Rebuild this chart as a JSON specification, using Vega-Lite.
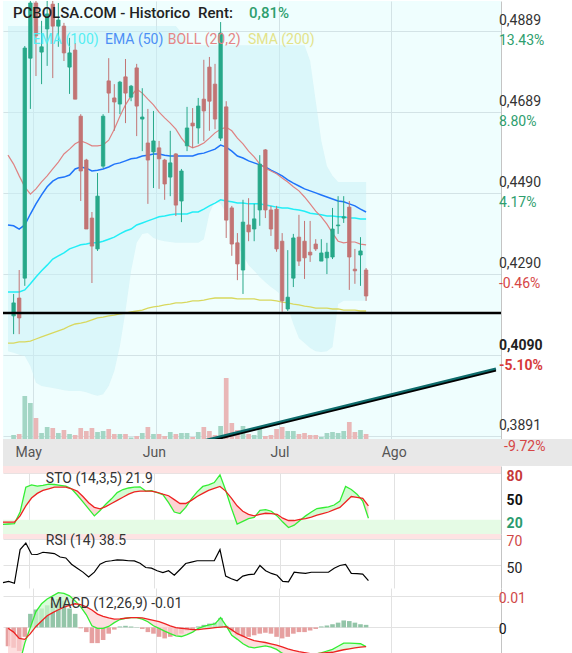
{
"$schema":"https://vega.github.io/schema/vega-lite/v6.json",
"padding":0,"bounds":"flush","spacing":0,"background":"white",
"config":{"view":{"stroke":null},"font":"Roboto","axis":{"title":null}},
"datasets":{
"candles":[{"i":0,"o":0.4187,"c":0.4219,"h":0.4241,"l":0.4142,"v":40,"d":"up"},{"i":1,"o":0.4231,"c":0.4182,"h":0.43,"l":0.4142,"v":50,"d":"dn"},{"i":2,"o":0.428,"c":0.4847,"h":0.4852,"l":0.4261,"v":430,"d":"up"},{"i":3,"o":0.4822,"c":0.4958,"h":0.4963,"l":0.4697,"v":360,"d":"up"},{"i":4,"o":0.4958,"c":0.4877,"h":0.4963,"l":0.4778,"v":210,"d":"dn"},{"i":5,"o":0.4837,"c":0.485,"h":0.4914,"l":0.4758,"v":60,"d":"up"},{"i":6,"o":0.4894,"c":0.4931,"h":0.4963,"l":0.4803,"v":120,"d":"up"},{"i":7,"o":0.4955,"c":0.4901,"h":0.4963,"l":0.4773,"v":110,"d":"dn"},{"i":8,"o":0.4901,"c":0.4916,"h":0.4958,"l":0.485,"v":60,"d":"up"},{"i":9,"o":0.4901,"c":0.4835,"h":0.4909,"l":0.4815,"v":90,"d":"dn"},{"i":10,"o":0.48,"c":0.4835,"h":0.4872,"l":0.4734,"v":50,"d":"up"},{"i":11,"o":0.4842,"c":0.4721,"h":0.4859,"l":0.4721,"v":40,"d":"dn"},{"i":12,"o":0.4679,"c":0.4544,"h":0.4684,"l":0.447,"v":110,"d":"dn"},{"i":13,"o":0.4571,"c":0.4401,"h":0.4574,"l":0.4401,"v":80,"d":"dn"},{"i":14,"o":0.4428,"c":0.4359,"h":0.4443,"l":0.4268,"v":110,"d":"dn"},{"i":15,"o":0.4352,"c":0.4482,"h":0.4539,"l":0.4347,"v":70,"d":"up"},{"i":16,"o":0.4556,"c":0.4679,"h":0.4684,"l":0.4551,"v":80,"d":"up"},{"i":17,"o":0.4766,"c":0.4736,"h":0.4822,"l":0.4687,"v":100,"d":"dn"},{"i":18,"o":0.4724,"c":0.4714,"h":0.4758,"l":0.4643,"v":50,"d":"dn"},{"i":19,"o":0.4709,"c":0.4763,"h":0.4766,"l":0.4684,"v":50,"d":"up"},{"i":20,"o":0.4776,"c":0.4736,"h":0.482,"l":0.4662,"v":50,"d":"dn"},{"i":21,"o":0.4726,"c":0.4753,"h":0.4756,"l":0.4716,"v":15,"d":"up"},{"i":22,"o":0.4798,"c":0.4704,"h":0.4808,"l":0.463,"v":30,"d":"dn"},{"i":23,"o":0.4672,"c":0.4677,"h":0.4748,"l":0.4593,"v":60,"d":"up"},{"i":24,"o":0.4613,"c":0.4571,"h":0.4697,"l":0.4463,"v":120,"d":"dn"},{"i":25,"o":0.4591,"c":0.4618,"h":0.4692,"l":0.4502,"v":50,"d":"up"},{"i":26,"o":0.4601,"c":0.4574,"h":0.4618,"l":0.45,"v":50,"d":"dn"},{"i":27,"o":0.4571,"c":0.4512,"h":0.4574,"l":0.4473,"v":30,"d":"dn"},{"i":28,"o":0.4529,"c":0.4564,"h":0.4643,"l":0.4482,"v":70,"d":"up"},{"i":29,"o":0.4586,"c":0.446,"h":0.4588,"l":0.4433,"v":50,"d":"dn"},{"i":30,"o":0.447,"c":0.4544,"h":0.4549,"l":0.4418,"v":60,"d":"up"},{"i":31,"o":0.4606,"c":0.465,"h":0.4702,"l":0.4593,"v":60,"d":"up"},{"i":32,"o":0.4662,"c":0.4655,"h":0.4699,"l":0.4601,"v":20,"d":"dn"},{"i":33,"o":0.465,"c":0.4704,"h":0.4724,"l":0.4611,"v":70,"d":"up"},{"i":34,"o":0.4721,"c":0.4692,"h":0.4818,"l":0.4618,"v":120,"d":"dn"},{"i":35,"o":0.48,"c":0.4716,"h":0.4825,"l":0.4643,"v":80,"d":"dn"},{"i":36,"o":0.4758,"c":0.4672,"h":0.4808,"l":0.4647,"v":40,"d":"dn"},{"i":37,"o":0.4625,"c":0.4884,"h":0.4911,"l":0.4618,"v":130,"d":"up"},{"i":38,"o":0.4702,"c":0.4423,"h":0.4716,"l":0.4379,"v":610,"d":"dn"},{"i":39,"o":0.4453,"c":0.4364,"h":0.4458,"l":0.4335,"v":160,"d":"dn"},{"i":40,"o":0.4367,"c":0.4315,"h":0.4391,"l":0.4275,"v":90,"d":"dn"},{"i":41,"o":0.43,"c":0.4418,"h":0.4473,"l":0.4241,"v":130,"d":"up"},{"i":42,"o":0.4411,"c":0.4394,"h":0.4477,"l":0.4371,"v":50,"d":"dn"},{"i":43,"o":0.4401,"c":0.4426,"h":0.4463,"l":0.4371,"v":40,"d":"up"},{"i":44,"o":0.4448,"c":0.4561,"h":0.4583,"l":0.4409,"v":100,"d":"up"},{"i":45,"o":0.4596,"c":0.4448,"h":0.4598,"l":0.4428,"v":30,"d":"dn"},{"i":46,"o":0.4448,"c":0.4401,"h":0.4458,"l":0.4384,"v":40,"d":"dn"},{"i":47,"o":0.445,"c":0.4352,"h":0.4458,"l":0.4345,"v":100,"d":"dn"},{"i":48,"o":0.4371,"c":0.4224,"h":0.4391,"l":0.4197,"v":120,"d":"dn"},{"i":49,"o":0.4204,"c":0.4233,"h":0.4349,"l":0.4199,"v":80,"d":"up"},{"i":50,"o":0.428,"c":0.4379,"h":0.4389,"l":0.4258,"v":80,"d":"up"},{"i":51,"o":0.4381,"c":0.4322,"h":0.4436,"l":0.431,"v":50,"d":"dn"},{"i":52,"o":0.4371,"c":0.433,"h":0.4421,"l":0.4278,"v":60,"d":"dn"},{"i":53,"o":0.4344,"c":0.4337,"h":0.4421,"l":0.432,"v":40,"d":"dn"},{"i":54,"o":0.4364,"c":0.4352,"h":0.4376,"l":0.4347,"v":40,"d":"dn"},{"i":55,"o":0.4322,"c":0.4342,"h":0.4376,"l":0.4322,"v":20,"d":"up"},{"i":56,"o":0.433,"c":0.4344,"h":0.4367,"l":0.429,"v":60,"d":"up"},{"i":57,"o":0.4332,"c":0.4401,"h":0.4453,"l":0.4327,"v":70,"d":"up"},{"i":58,"o":0.4409,"c":0.4411,"h":0.4482,"l":0.4389,"v":60,"d":"up"},{"i":59,"o":0.4428,"c":0.4431,"h":0.4482,"l":0.4416,"v":80,"d":"up"},{"i":60,"o":0.4455,"c":0.4332,"h":0.447,"l":0.4251,"v":170,"d":"dn"},{"i":61,"o":0.4302,"c":0.4298,"h":0.4352,"l":0.4266,"v":70,"d":"dn"},{"i":62,"o":0.4337,"c":0.4347,"h":0.4381,"l":0.4261,"v":90,"d":"up"},{"i":63,"o":0.43,"c":0.4236,"h":0.4305,"l":0.4224,"v":50,"d":"dn"}],
"ind":[{"i":-1,"e50":0.4411,"e100":0.4246,"bm":0.4583,"s":0.412,"bu":0.4901,"bl":0.41},{"i":0,"e50":0.4409,"e100":0.4246,"bm":0.4561,"s":0.412,"bu":0.4901,"bl":0.4096},{"i":1,"e50":0.4401,"e100":0.4246,"bm":0.4532,"s":0.4123,"bu":0.4901,"bl":0.4091},{"i":2,"e50":0.4411,"e100":0.4251,"bm":0.4505,"s":0.4123,"bu":0.4901,"bl":0.4088},{"i":3,"e50":0.4438,"e100":0.4266,"bm":0.4487,"s":0.4125,"bu":0.4901,"bl":0.4063},{"i":4,"e50":0.4463,"e100":0.4283,"bm":0.45,"s":0.413,"bu":0.4901,"bl":0.4022},{"i":5,"e50":0.4485,"e100":0.4298,"bm":0.4517,"s":0.4135,"bu":0.4901,"bl":0.4014},{"i":6,"e50":0.4505,"e100":0.4312,"bm":0.4532,"s":0.414,"bu":0.4901,"bl":0.4012},{"i":7,"e50":0.4519,"e100":0.4327,"bm":0.4549,"s":0.4145,"bu":0.4901,"bl":0.4009},{"i":8,"e50":0.4527,"e100":0.4335,"bm":0.4566,"s":0.415,"bu":0.4901,"bl":0.4007},{"i":9,"e50":0.4529,"e100":0.4342,"bm":0.4586,"s":0.4155,"bu":0.4901,"bl":0.4004},{"i":10,"e50":0.4534,"e100":0.4352,"bm":0.4598,"s":0.4162,"bu":0.4901,"bl":0.4002},{"i":11,"e50":0.4549,"e100":0.4357,"bm":0.4611,"s":0.4167,"bu":0.4901,"bl":0.4002},{"i":12,"e50":0.4554,"e100":0.4362,"bm":0.4618,"s":0.4169,"bu":0.4901,"bl":0.4002},{"i":13,"e50":0.4551,"e100":0.4364,"bm":0.4613,"s":0.4172,"bu":0.4901,"bl":0.3999},{"i":14,"e50":0.4544,"e100":0.4367,"bm":0.4606,"s":0.4177,"bu":0.4901,"bl":0.3994},{"i":15,"e50":0.4546,"e100":0.4367,"bm":0.4606,"s":0.4182,"bu":0.4901,"bl":0.399},{"i":16,"e50":0.4549,"e100":0.4371,"bm":0.4608,"s":0.4184,"bu":0.4901,"bl":0.3994},{"i":17,"e50":0.4554,"e100":0.4376,"bm":0.462,"s":0.4187,"bu":0.4901,"bl":0.4014},{"i":18,"e50":0.4561,"e100":0.4381,"bm":0.4647,"s":0.4189,"bu":0.4901,"bl":0.4051},{"i":19,"e50":0.4564,"e100":0.4389,"bm":0.4679,"s":0.4192,"bu":0.4901,"bl":0.4113},{"i":20,"e50":0.4569,"e100":0.4396,"bm":0.4707,"s":0.4194,"bu":0.4901,"bl":0.4199},{"i":21,"e50":0.4574,"e100":0.4401,"bm":0.4729,"s":0.4197,"bu":0.4901,"bl":0.4298},{"i":22,"e50":0.4576,"e100":0.4411,"bm":0.4746,"s":0.4199,"bu":0.4901,"bl":0.4367},{"i":23,"e50":0.4581,"e100":0.4416,"bm":0.4736,"s":0.4201,"bu":0.4901,"bl":0.4389},{"i":24,"e50":0.4583,"e100":0.4421,"bm":0.4721,"s":0.4206,"bu":0.4901,"bl":0.4391},{"i":25,"e50":0.4586,"e100":0.4426,"bm":0.4707,"s":0.4209,"bu":0.4901,"bl":0.4379},{"i":26,"e50":0.4586,"e100":0.4431,"bm":0.4689,"s":0.4211,"bu":0.4901,"bl":0.4374},{"i":27,"e50":0.4583,"e100":0.4433,"bm":0.4675,"s":0.4214,"bu":0.4901,"bl":0.4371},{"i":28,"e50":0.4581,"e100":0.4436,"bm":0.4662,"s":0.4216,"bu":0.4901,"bl":0.4369},{"i":29,"e50":0.4581,"e100":0.4438,"bm":0.4647,"s":0.4219,"bu":0.4901,"bl":0.4367},{"i":30,"e50":0.4581,"e100":0.4438,"bm":0.4625,"s":0.4219,"bu":0.4884,"bl":0.4367},{"i":31,"e50":0.4581,"e100":0.4438,"bm":0.4608,"s":0.4221,"bu":0.4854,"bl":0.4367},{"i":32,"e50":0.4581,"e100":0.4443,"bm":0.4601,"s":0.4224,"bu":0.4854,"bl":0.4367},{"i":33,"e50":0.4586,"e100":0.4443,"bm":0.4606,"s":0.4224,"bu":0.4854,"bl":0.4367},{"i":34,"e50":0.4588,"e100":0.445,"bm":0.4613,"s":0.4226,"bu":0.4854,"bl":0.4376},{"i":35,"e50":0.4593,"e100":0.4458,"bm":0.4625,"s":0.4229,"bu":0.4854,"bl":0.444},{"i":36,"e50":0.4598,"e100":0.4465,"bm":0.4638,"s":0.4231,"bu":0.4854,"bl":0.447},{"i":37,"e50":0.4608,"e100":0.4473,"bm":0.4647,"s":0.4231,"bu":0.4854,"bl":0.4463},{"i":38,"e50":0.4603,"e100":0.447,"bm":0.4652,"s":0.4231,"bu":0.4854,"bl":0.444},{"i":39,"e50":0.4593,"e100":0.4468,"bm":0.4643,"s":0.4231,"bu":0.4854,"bl":0.4396},{"i":40,"e50":0.4581,"e100":0.4465,"bm":0.4625,"s":0.4229,"bu":0.4854,"bl":0.4359},{"i":41,"e50":0.4576,"e100":0.4465,"bm":0.4611,"s":0.4229,"bu":0.4854,"bl":0.4337},{"i":42,"e50":0.4569,"e100":0.4463,"bm":0.4593,"s":0.4229,"bu":0.4854,"bl":0.4312},{"i":43,"e50":0.4564,"e100":0.4463,"bm":0.4579,"s":0.4229,"bu":0.4854,"bl":0.4298},{"i":44,"e50":0.4559,"e100":0.4463,"bm":0.4561,"s":0.4226,"bu":0.4854,"bl":0.4283},{"i":45,"e50":0.4554,"e100":0.446,"bm":0.4551,"s":0.4226,"bu":0.4854,"bl":0.427},{"i":46,"e50":0.4546,"e100":0.4458,"bm":0.4544,"s":0.4226,"bu":0.4854,"bl":0.4258},{"i":47,"e50":0.4539,"e100":0.4455,"bm":0.4537,"s":0.4224,"bu":0.4854,"bl":0.4248},{"i":48,"e50":0.4532,"e100":0.4453,"bm":0.4527,"s":0.4221,"bu":0.4854,"bl":0.4236},{"i":49,"e50":0.4522,"e100":0.4453,"bm":0.4517,"s":0.4219,"bu":0.4854,"bl":0.4209},{"i":50,"e50":0.4514,"e100":0.445,"bm":0.4505,"s":0.4216,"bu":0.4854,"bl":0.4167},{"i":51,"e50":0.4507,"e100":0.4448,"bm":0.4495,"s":0.4214,"bu":0.4854,"bl":0.4132},{"i":52,"e50":0.45,"e100":0.4445,"bm":0.448,"s":0.4211,"bu":0.4854,"bl":0.412},{"i":53,"e50":0.4495,"e100":0.444,"bm":0.4463,"s":0.4209,"bu":0.4815,"bl":0.4108},{"i":54,"e50":0.449,"e100":0.4438,"bm":0.4445,"s":0.4206,"bu":0.4716,"bl":0.41},{"i":55,"e50":0.4485,"e100":0.4436,"bm":0.4431,"s":0.4206,"bu":0.4618,"bl":0.4098},{"i":56,"e50":0.448,"e100":0.4433,"bm":0.4413,"s":0.4206,"bu":0.4556,"bl":0.41},{"i":57,"e50":0.4475,"e100":0.4433,"bm":0.4391,"s":0.4204,"bu":0.4532,"bl":0.411},{"i":58,"e50":0.447,"e100":0.4431,"bm":0.4371,"s":0.4204,"bu":0.4517,"bl":0.4216},{"i":59,"e50":0.4468,"e100":0.4431,"bm":0.4367,"s":0.4201,"bu":0.4517,"bl":0.4224},{"i":60,"e50":0.4463,"e100":0.4428,"bm":0.4369,"s":0.4201,"bu":0.4517,"bl":0.4224},{"i":61,"e50":0.4458,"e100":0.4428,"bm":0.4369,"s":0.4201,"bu":0.4517,"bl":0.4224},{"i":62,"e50":0.445,"e100":0.4426,"bm":0.4364,"s":0.4199,"bu":0.4517,"bl":0.4224},{"i":63,"e50":0.4443,"e100":0.4426,"bm":0.4362,"s":0.4199,"bu":0.4517,"bl":0.4224}],
"trend":[{"i":30,"p":0.3863},{"i":86.22,"p":0.4054}],
"lab":[{"p":0.4889,"a":"0,4889","b":"13.43%","w":"n"},{"p":0.4689,"a":"0,4689","b":"8.80%","w":"n"},{"p":0.449,"a":"0,4490","b":"4.17%","w":"n"},{"p":0.429,"a":"0,4290","b":"-0.46%","w":"n"},{"p":0.409,"a":"0,4090","b":"-5.10%","w":"b"},{"p":0.3891,"a":"0,3891","b":"-9.72%","w":"n"}],
"months":[{"i":3.5,"m":"May"},{"i":25.5,"m":"Jun"},{"i":47.5,"m":"Jul"},{"i":67.5,"m":"Ago"}],
"sto":[{"i":-1,"k":14,"d":17,"s":1,"c":"dn"},{"i":0,"k":14.5,"d":17,"s":1,"c":"dn"},{"i":1,"k":15,"d":17,"s":1,"c":"dn"},{"i":2,"k":30,"d":25,"s":1,"c":"dn"},{"i":2,"k":30,"d":25,"s":2,"c":"up"},{"i":3,"k":62,"d":38,"s":2,"c":"up"},{"i":4,"k":65,"d":48,"s":2,"c":"up"},{"i":5,"k":63.5,"d":54,"s":2,"c":"up"},{"i":6,"k":64.5,"d":58,"s":2,"c":"up"},{"i":7,"k":66,"d":60,"s":2,"c":"up"},{"i":8,"k":65.5,"d":62,"s":2,"c":"up"},{"i":9,"k":64.5,"d":62,"s":2,"c":"up"},{"i":10,"k":63.3,"d":62,"s":2,"c":"up"},{"i":11,"k":60,"d":60,"s":2,"c":"up"},{"i":11,"k":60,"d":60,"s":3,"c":"dn"},{"i":12,"k":52,"d":57,"s":3,"c":"dn"},{"i":13,"k":43,"d":50,"s":3,"c":"dn"},{"i":14,"k":34,"d":42,"s":3,"c":"dn"},{"i":15,"k":25,"d":36,"s":3,"c":"dn"},{"i":16,"k":32,"d":34,"s":3,"c":"dn"},{"i":17,"k":40,"d":37,"s":3,"c":"dn"},{"i":17,"k":40,"d":37,"s":4,"c":"up"},{"i":18,"k":47,"d":41,"s":4,"c":"up"},{"i":19,"k":55,"d":45,"s":4,"c":"up"},{"i":20,"k":59,"d":49,"s":4,"c":"up"},{"i":21,"k":61,"d":53,"s":4,"c":"up"},{"i":22,"k":62,"d":56,"s":4,"c":"up"},{"i":23,"k":62.5,"d":57,"s":4,"c":"up"},{"i":24,"k":57,"d":57,"s":4,"c":"up"},{"i":25,"k":57.5,"d":57,"s":4,"c":"up"},{"i":26,"k":55,"d":55.5,"s":4,"c":"up"},{"i":26,"k":55,"d":55.5,"s":5,"c":"dn"},{"i":27,"k":52.5,"d":53,"s":5,"c":"dn"},{"i":28,"k":42,"d":51,"s":5,"c":"dn"},{"i":29,"k":30,"d":46,"s":5,"c":"dn"},{"i":30,"k":28,"d":41,"s":5,"c":"dn"},{"i":31,"k":36,"d":41,"s":5,"c":"dn"},{"i":32,"k":47,"d":45,"s":5,"c":"dn"},{"i":32,"k":47,"d":45,"s":6,"c":"up"},{"i":33,"k":56,"d":50,"s":6,"c":"up"},{"i":34,"k":63,"d":54,"s":6,"c":"up"},{"i":35,"k":65,"d":58,"s":6,"c":"up"},{"i":36,"k":68,"d":60.5,"s":6,"c":"up"},{"i":37,"k":78,"d":63,"s":6,"c":"up"},{"i":38,"k":58,"d":57,"s":6,"c":"up"},{"i":39,"k":35,"d":48,"s":6,"c":"up"},{"i":39,"k":35,"d":48,"s":7,"c":"dn"},{"i":40,"k":14.5,"d":38,"s":7,"c":"dn"},{"i":41,"k":18,"d":31,"s":7,"c":"dn"},{"i":42,"k":21.5,"d":27,"s":7,"c":"dn"},{"i":43,"k":23,"d":25,"s":7,"c":"dn"},{"i":44,"k":32,"d":27,"s":7,"c":"dn"},{"i":44,"k":32,"d":27,"s":8,"c":"up"},{"i":45,"k":33,"d":28.4,"s":8,"c":"up"},{"i":46,"k":31,"d":28,"s":8,"c":"up"},{"i":47,"k":25,"d":27,"s":8,"c":"up"},{"i":47,"k":25,"d":27,"s":9,"c":"dn"},{"i":48,"k":17,"d":22,"s":9,"c":"dn"},{"i":49,"k":10,"d":19,"s":9,"c":"dn"},{"i":50,"k":13,"d":19,"s":9,"c":"dn"},{"i":51,"k":19,"d":20.5,"s":9,"c":"dn"},{"i":52,"k":25,"d":21.5,"s":9,"c":"dn"},{"i":52,"k":25,"d":21.5,"s":10,"c":"up"},{"i":53,"k":30,"d":23.5,"s":10,"c":"up"},{"i":54,"k":34.5,"d":26,"s":10,"c":"up"},{"i":55,"k":35.5,"d":28,"s":10,"c":"up"},{"i":56,"k":36.5,"d":30,"s":10,"c":"up"},{"i":57,"k":39,"d":33,"s":10,"c":"up"},{"i":58,"k":44,"d":36,"s":10,"c":"up"},{"i":59,"k":63,"d":43,"s":10,"c":"up"},{"i":60,"k":59,"d":50,"s":10,"c":"up"},{"i":61,"k":53,"d":49,"s":10,"c":"up"},{"i":62,"k":44,"d":47.5,"s":10,"c":"up"},{"i":62,"k":44,"d":47.5,"s":11,"c":"dn"},{"i":63,"k":22,"d":38,"s":11,"c":"dn"}],
"rsi":[{"i":-1,"r":37},{"i":0,"r":38},{"i":1,"r":36.6},{"i":2,"r":62},{"i":3,"r":67},{"i":4,"r":58.5},{"i":5,"r":58.3},{"i":6,"r":60},{"i":7,"r":59.5},{"i":8,"r":59},{"i":9,"r":56.4},{"i":10,"r":55.7},{"i":11,"r":51},{"i":12,"r":48},{"i":13,"r":45},{"i":14,"r":41.3},{"i":15,"r":45},{"i":16,"r":51},{"i":17,"r":53},{"i":18,"r":53.6},{"i":19,"r":54.3},{"i":20,"r":54},{"i":21,"r":53.6},{"i":22,"r":53.5},{"i":23,"r":51.7},{"i":24,"r":48.5},{"i":25,"r":48},{"i":26,"r":46},{"i":27,"r":44.6},{"i":28,"r":46},{"i":29,"r":42.6},{"i":30,"r":47},{"i":31,"r":51.5},{"i":32,"r":52.5},{"i":33,"r":53.6},{"i":34,"r":53.6},{"i":35,"r":53.6},{"i":36,"r":53.6},{"i":37,"r":62},{"i":38,"r":42},{"i":39,"r":40},{"i":40,"r":38.5},{"i":41,"r":42},{"i":42,"r":43.1},{"i":43,"r":43.5},{"i":44,"r":50},{"i":45,"r":46},{"i":46,"r":44},{"i":47,"r":42.6},{"i":48,"r":38},{"i":49,"r":37.7},{"i":50,"r":45},{"i":51,"r":44.5},{"i":52,"r":44},{"i":53,"r":44.9},{"i":54,"r":44.9},{"i":55,"r":44.9},{"i":56,"r":44.9},{"i":57,"r":48},{"i":58,"r":50},{"i":59,"r":50.9},{"i":60,"r":44},{"i":61,"r":43.8},{"i":62,"r":43.5},{"i":63,"r":38.5}],
"macd":[{"i":-1,"m":-0.009,"g":-0.0003,"s":1,"c":"dn"},{"i":0,"m":-0.011,"g":-0.0015,"s":1,"c":"dn"},{"i":1,"m":-0.012,"g":-0.0035,"s":1,"c":"dn"},{"i":2,"m":-0.005,"g":-0.0038,"s":1,"c":"dn"},{"i":3,"m":0,"g":-0.002,"s":1,"c":"dn"},{"i":3,"m":0,"g":-0.002,"s":2,"c":"up"},{"i":4,"m":0.005,"g":0.0003,"s":2,"c":"up"},{"i":5,"m":0.0075,"g":0.002,"s":2,"c":"up"},{"i":6,"m":0.009,"g":0.0037,"s":2,"c":"up"},{"i":7,"m":0.01,"g":0.0047,"s":2,"c":"up"},{"i":8,"m":0.011,"g":0.0056,"s":2,"c":"up"},{"i":9,"m":0.0108,"g":0.0064,"s":2,"c":"up"},{"i":10,"m":0.01,"g":0.007,"s":2,"c":"up"},{"i":11,"m":0.0084,"g":0.0075,"s":2,"c":"up"},{"i":12,"m":0.0065,"g":0.0072,"s":2,"c":"up"},{"i":12,"m":0.0065,"g":0.0072,"s":3,"c":"dn"},{"i":13,"m":0.004,"g":0.0065,"s":3,"c":"dn"},{"i":14,"m":0.0005,"g":0.0055,"s":3,"c":"dn"},{"i":15,"m":-0.0003,"g":0.0042,"s":3,"c":"dn"},{"i":16,"m":-0.0003,"g":0.0035,"s":3,"c":"dn"},{"i":17,"m":0.0003,"g":0.003,"s":3,"c":"dn"},{"i":18,"m":0.0015,"g":0.0026,"s":3,"c":"dn"},{"i":19,"m":0.0025,"g":0.0027,"s":3,"c":"dn"},{"i":20,"m":0.0029,"g":0.0029,"s":3,"c":"dn"},{"i":21,"m":0.0031,"g":0.0031,"s":3,"c":"dn"},{"i":22,"m":0.0031,"g":0.0031,"s":3,"c":"dn"},{"i":23,"m":0.0026,"g":0.003,"s":3,"c":"dn"},{"i":24,"m":0.0018,"g":0.0026,"s":3,"c":"dn"},{"i":25,"m":0.0005,"g":0.0022,"s":3,"c":"dn"},{"i":26,"m":-0.0003,"g":0.0018,"s":3,"c":"dn"},{"i":27,"m":-0.0012,"g":0.0012,"s":3,"c":"dn"},{"i":28,"m":-0.002,"g":0.0005,"s":3,"c":"dn"},{"i":29,"m":-0.0027,"g":-0.0001,"s":3,"c":"dn"},{"i":30,"m":-0.0029,"g":-0.0003,"s":3,"c":"dn"},{"i":31,"m":-0.0023,"g":-0.0005,"s":3,"c":"dn"},{"i":32,"m":-0.0015,"g":-0.0007,"s":3,"c":"dn"},{"i":33,"m":-0.0003,"g":-0.0007,"s":3,"c":"dn"},{"i":33,"m":-0.0003,"g":-0.0007,"s":4,"c":"up"},{"i":34,"m":0.0003,"g":-0.0005,"s":4,"c":"up"},{"i":35,"m":0.0008,"g":-0.0003,"s":4,"c":"up"},{"i":36,"m":0.0011,"g":-0.0001,"s":4,"c":"up"},{"i":37,"m":0.0031,"g":0.0001,"s":4,"c":"up"},{"i":38,"m":0.0005,"g":0.00025,"s":4,"c":"up"},{"i":39,"m":-0.0025,"g":-0.0008,"s":4,"c":"up"},{"i":39,"m":-0.0025,"g":-0.0008,"s":5,"c":"dn"},{"i":40,"m":-0.0038,"g":-0.002,"s":5,"c":"dn"},{"i":41,"m":-0.0052,"g":-0.0028,"s":5,"c":"dn"},{"i":42,"m":-0.0062,"g":-0.0036,"s":5,"c":"dn"},{"i":43,"m":-0.0065,"g":-0.0042,"s":5,"c":"dn"},{"i":44,"m":-0.0062,"g":-0.0045,"s":5,"c":"dn"},{"i":45,"m":-0.0059,"g":-0.0048,"s":5,"c":"dn"},{"i":46,"m":-0.0063,"g":-0.0052,"s":5,"c":"dn"},{"i":47,"m":-0.007,"g":-0.0056,"s":5,"c":"dn"},{"i":48,"m":-0.0082,"g":-0.0062,"s":5,"c":"dn"},{"i":49,"m":-0.009,"g":-0.0068,"s":5,"c":"dn"},{"i":50,"m":-0.009,"g":-0.0073,"s":5,"c":"dn"},{"i":51,"m":-0.0088,"g":-0.0077,"s":5,"c":"dn"},{"i":52,"m":-0.0086,"g":-0.008,"s":5,"c":"dn"},{"i":53,"m":-0.0085,"g":-0.0083,"s":5,"c":"dn"},{"i":54,"m":-0.0084,"g":-0.0084,"s":5,"c":"dn"},{"i":55,"m":-0.0081,"g":-0.0082,"s":5,"c":"dn"},{"i":55,"m":-0.0081,"g":-0.0082,"s":6,"c":"up"},{"i":56,"m":-0.0075,"g":-0.008,"s":6,"c":"up"},{"i":57,"m":-0.007,"g":-0.0079,"s":6,"c":"up"},{"i":58,"m":-0.006,"g":-0.0075,"s":6,"c":"up"},{"i":59,"m":-0.005,"g":-0.0071,"s":6,"c":"up"},{"i":60,"m":-0.005,"g":-0.0068,"s":6,"c":"up"},{"i":61,"m":-0.0051,"g":-0.0065,"s":6,"c":"up"},{"i":62,"m":-0.0052,"g":-0.0063,"s":6,"c":"up"},{"i":63,"m":-0.0061,"g":-0.0061,"s":6,"c":"up"}],
"hist":[{"i":-1,"h":-0.006},{"i":0,"h":-0.0065},{"i":1,"h":-0.0075},{"i":2,"h":-0.003},{"i":3,"h":0.0043},{"i":4,"h":0.0057},{"i":5,"h":0.006},{"i":6,"h":0.007},{"i":7,"h":0.0078},{"i":8,"h":0.009},{"i":9,"h":0.0085},{"i":10,"h":0.006},{"i":11,"h":0.0043},{"i":12,"h":-0.0003},{"i":13,"h":-0.0015},{"i":14,"h":-0.005},{"i":15,"h":-0.005},{"i":16,"h":-0.004},{"i":17,"h":-0.002},{"i":18,"h":-0.0007},{"i":19,"h":0.0003},{"i":20,"h":0.0005},{"i":21,"h":0.0003},{"i":22,"h":0.0001},{"i":23,"h":-0.0005},{"i":24,"h":-0.0015},{"i":25,"h":-0.002},{"i":26,"h":-0.003},{"i":27,"h":-0.0035},{"i":28,"h":-0.003},{"i":29,"h":-0.0025},{"i":30,"h":-0.002},{"i":31,"h":-0.001},{"i":32,"h":-0.0005},{"i":33,"h":0.0003},{"i":34,"h":0.0008},{"i":35,"h":0.0012},{"i":36,"h":0.0015},{"i":37,"h":0.003},{"i":38,"h":0.0005},{"i":39,"h":-0.0015},{"i":40,"h":-0.0025},{"i":41,"h":-0.003},{"i":42,"h":-0.003},{"i":43,"h":-0.0025},{"i":44,"h":-0.002},{"i":45,"h":-0.0017},{"i":46,"h":-0.002},{"i":47,"h":-0.003},{"i":48,"h":-0.0035},{"i":49,"h":-0.003},{"i":50,"h":-0.002},{"i":51,"h":-0.0015},{"i":52,"h":-0.0015},{"i":53,"h":-0.001},{"i":54,"h":-0.0005},{"i":55,"h":0.0003},{"i":56,"h":0.0006},{"i":57,"h":0.001},{"i":58,"h":0.0015},{"i":59,"h":0.0022},{"i":60,"h":0.002},{"i":61,"h":0.0015},{"i":62,"h":0.001},{"i":63,"h":0.0008}]
},
"vconcat":[
{
"width":498,"height":438,
"view":{"fill":"#effefe","stroke":null},
"layer":[
{"data":{"name":"ind"},"mark":{"type":"area","color":"#c8eff5","opacity":0.5},
 "encoding":{
  "x":{"field":"i","type":"quantitative","scale":{"domain":[-1,86.22],"nice":false,"zero":false},"axis":{"values":[3.5,25.5,47.5,67.5],"grid":true,"gridColor":"#d3e3e6","labels":false,"ticks":false,"domain":false,"title":null}},
  "y":{"field":"bl","type":"quantitative","scale":{"domain":[0.38836,0.49629],"nice":false,"zero":false},"axis":{"orient":"right","values":[0.4889,0.4689,0.449,0.429,0.409,0.3891],"grid":true,"gridColor":"#d3e3e6","labels":false,"ticks":false,"domain":true,"domainColor":"#c4c4c4","title":null}},
  "y2":{"field":"bu"}}},
{"data":{"name":"candles"},"mark":{"type":"bar","width":4.7},
 "encoding":{
  "x":{"field":"i","type":"quantitative"},
  "y":{"field":"v","type":"quantitative","scale":{"domain":[0,4380],"nice":false,"zero":false},"axis":null},
  "y2":{"datum":0},
  "color":{"condition":{"test":"datum.d == 'up'","value":"#a3d6c5"},"value":"#e9b7b7"}}},
{"layer":[
 {"data":{"name":"ind"},"mark":{"type":"line","color":"#d8d85e","strokeWidth":1.3},
  "encoding":{"x":{"field":"i","type":"quantitative"},"y":{"field":"s","type":"quantitative","scale":{"domain":[0.38836,0.49629],"nice":false,"zero":false},"axis":null}}},
 {"data":{"name":"ind"},"mark":{"type":"line","color":"#22eef6","strokeWidth":1.5},
  "encoding":{"x":{"field":"i","type":"quantitative"},"y":{"field":"e100","type":"quantitative","axis":null}}},
 {"data":{"name":"ind"},"mark":{"type":"line","color":"#1f74fa","strokeWidth":1.5},
  "encoding":{"x":{"field":"i","type":"quantitative"},"y":{"field":"e50","type":"quantitative","axis":null}}},
 {"data":{"name":"ind"},"mark":{"type":"line","color":"#df8282","strokeWidth":1.2},
  "encoding":{"x":{"field":"i","type":"quantitative"},"y":{"field":"bm","type":"quantitative","axis":null}}},
 {"data":{"name":"candles"},"mark":{"type":"rule","strokeWidth":1},
  "encoding":{"x":{"field":"i","type":"quantitative"},"y":{"field":"l","type":"quantitative","axis":null},"y2":{"field":"h"},
   "color":{"condition":{"test":"datum.d == 'up'","value":"#27a889"},"value":"#c27474"}}},
 {"data":{"name":"candles"},"mark":{"type":"bar","width":3.4,"strokeWidth":0.8},
  "encoding":{"x":{"field":"i","type":"quantitative"},"y":{"field":"o","type":"quantitative","axis":null},"y2":{"field":"c"},
   "color":{"condition":{"test":"datum.d == 'up'","value":"#27a889"},"value":"#c27474"},
   "stroke":{"condition":{"test":"datum.d == 'up'","value":"#27a889"},"value":"#c27474"}}},
 {"data":{"values":[{}]},"mark":{"type":"rule","color":"#000000","strokeWidth":2.6},
  "encoding":{"y":{"datum":0.4194,"type":"quantitative","axis":null}}},
 {"data":{"name":"trend"},"mark":{"type":"line","color":"#0d6b6b","strokeWidth":3,"yOffset":-1,"clip":true},
  "encoding":{"x":{"field":"i","type":"quantitative"},"y":{"field":"p","type":"quantitative","axis":null}}},
 {"data":{"name":"trend"},"mark":{"type":"line","color":"#000000","strokeWidth":1.8,"yOffset":0.7,"clip":true},
  "encoding":{"x":{"field":"i","type":"quantitative"},"y":{"field":"p","type":"quantitative","axis":null}}},
 {"data":{"values":[{}]},"mark":{"type":"text","text":"PCBOLSA.COM - Historico","align":"left","baseline":"middle","fontSize":15,"fontWeight":500,"color":"#222222"},
  "encoding":{"x":{"datum":-0.12},"y":{"datum":0.4933,"type":"quantitative","axis":null}}},
 {"data":{"values":[{}]},"mark":{"type":"text","text":"Rent:","align":"left","baseline":"middle","fontSize":15,"fontWeight":500,"color":"#222222"},
  "encoding":{"x":{"datum":32.98},"y":{"datum":0.4933,"type":"quantitative","axis":null}}},
 {"data":{"values":[{}]},"mark":{"type":"text","text":"0,81%","align":"left","baseline":"middle","fontSize":15,"fontWeight":500,"color":"#2e9e6e"},
  "encoding":{"x":{"datum":42.08},"y":{"datum":0.4933,"type":"quantitative","axis":null}}},
 {"data":{"values":[{}]},"mark":{"type":"text","text":"EMA (100)","align":"left","baseline":"middle","fontSize":14,"color":"#55eef2"},
  "encoding":{"x":{"datum":3.38},"y":{"datum":0.4867,"type":"quantitative","axis":null}}},
 {"data":{"values":[{}]},"mark":{"type":"text","text":"EMA (50)","align":"left","baseline":"middle","fontSize":14,"color":"#4d8ff5"},
  "encoding":{"x":{"datum":16.34},"y":{"datum":0.4867,"type":"quantitative","axis":null}}},
 {"data":{"values":[{}]},"mark":{"type":"text","text":"BOLL (20,2)","align":"left","baseline":"middle","fontSize":14,"color":"#e58585"},
  "encoding":{"x":{"datum":27.55},"y":{"datum":0.4867,"type":"quantitative","axis":null}}},
 {"data":{"values":[{}]},"mark":{"type":"text","text":"SMA (200)","align":"left","baseline":"middle","fontSize":14,"color":"#e3e38a"},
  "encoding":{"x":{"datum":41.9},"y":{"datum":0.4867,"type":"quantitative","axis":null}}},
 {"data":{"name":"lab"},"transform":[{"filter":"datum.w == 'n'"}],"mark":{"type":"text","align":"left","baseline":"middle","fontSize":14,"dy":-10,"color":"#333333"},
  "encoding":{"x":{"datum":86.74},"y":{"field":"p","type":"quantitative","axis":null},"text":{"field":"a"}}},
 {"data":{"name":"lab"},"transform":[{"filter":"datum.w == 'b'"}],"mark":{"type":"text","align":"left","baseline":"middle","fontSize":14,"fontWeight":"bold","dy":-9,"color":"#222222"},
  "encoding":{"x":{"datum":86.74},"y":{"field":"p","type":"quantitative","axis":null},"text":{"field":"a"}}},
 {"data":{"name":"lab"},"transform":[{"filter":"datum.w == 'n' && datum.p > 0.39"}],"mark":{"type":"text","align":"left","baseline":"middle","fontSize":14,"dy":10},
  "encoding":{"x":{"datum":86.74},"y":{"field":"p","type":"quantitative","axis":null},"text":{"field":"b"},
   "color":{"condition":{"test":"datum.p > 0.431","value":"#2e9e6e"},"value":"#d64545"}}},
 {"data":{"name":"lab"},"transform":[{"filter":"datum.w == 'b'"}],"mark":{"type":"text","align":"left","baseline":"middle","fontSize":14,"fontWeight":"bold","dy":11,"color":"#d63b3b"},
  "encoding":{"x":{"datum":86.74},"y":{"field":"p","type":"quantitative","axis":null},"text":{"field":"b"}}}
]}
],
"resolve":{"scale":{"y":"independent"}}
},
{
"width":572,"height":27,
"view":{"fill":"#e8e8e8","stroke":null},
"layer":[
 {"data":{"name":"months"},"mark":{"type":"text","fontSize":14,"color":"#555555","align":"center","baseline":"middle"},
  "encoding":{"x":{"field":"i","type":"quantitative","scale":{"domain":[-1,99.17],"nice":false,"zero":false},"axis":null},"text":{"field":"m"}}},
 {"data":{"name":"lab"},"transform":[{"filter":"datum.p < 0.39"}],"mark":{"type":"text","fontSize":14,"color":"#d64545","align":"left","baseline":"middle","dy":-6},
  "encoding":{"x":{"datum":86.74},"text":{"field":"b"}}}
]
},
{
"width":498,"height":68,
"layer":[
 {"data":{"values":[{}]},"mark":{"type":"rect","color":"#fde3e3"},
  "encoding":{"y":{"datum":80,"type":"quantitative","scale":{"domain":[1.6,89.4],"nice":false,"zero":false},"axis":{"orient":"right","values":[80,50,20],"grid":true,"gridColor":"#e2e2e2","labels":false,"ticks":false,"domain":true,"domainColor":"#c4c4c4","title":null}},"y2":{"datum":89.4}}},
 {"data":{"values":[{}]},"mark":{"type":"rect","color":"#e5fbe5"},
  "encoding":{"y":{"datum":1.6,"type":"quantitative"},"y2":{"datum":20}}},
 {"data":{"name":"sto"},"mark":{"type":"area","opacity":1},
  "encoding":{"x":{"field":"i","type":"quantitative","scale":{"domain":[-1,86.22],"nice":false,"zero":false},"axis":{"values":[3.5,25.5,47.5,67.5],"grid":true,"gridColor":"#e2e2e2","labels":false,"ticks":false,"domain":false,"title":null}},
   "y":{"field":"k","type":"quantitative"},"y2":{"field":"d"},"detail":{"field":"s"},
   "color":{"condition":{"test":"datum.c == 'up'","value":"#d3fbd3"},"value":"#fdd4d4"}}},
 {"data":{"name":"sto"},"mark":{"type":"line","color":"#33ee33","strokeWidth":1.3},
  "encoding":{"x":{"field":"i","type":"quantitative"},"y":{"field":"k","type":"quantitative"}}},
 {"data":{"name":"sto"},"mark":{"type":"line","color":"#ee2222","strokeWidth":1.3},
  "encoding":{"x":{"field":"i","type":"quantitative"},"y":{"field":"d","type":"quantitative"}}},
 {"data":{"values":[{}]},"mark":{"type":"text","text":"STO (14,3,5) 21.9","align":"left","baseline":"middle","fontSize":14,"color":"#333333"},
  "encoding":{"x":{"datum":6.5},"y":{"datum":72.6,"type":"quantitative"}}},
 {"data":{"values":[{"v":80,"t":"80"},{"v":50,"t":"50"},{"v":20,"t":"20"}]},"mark":{"type":"text","align":"left","baseline":"middle","fontSize":14,"fontWeight":"bold","dy":4},
  "encoding":{"x":{"datum":87.2},"y":{"field":"v","type":"quantitative"},"text":{"field":"t"},
   "color":{"condition":[{"test":"datum.v == 80","value":"#c73a3a"},{"test":"datum.v == 20","value":"#2a9b6e"}],"value":"#111111"}}}
]
},
{
"width":498,"height":54,
"layer":[
 {"data":{"values":[{}]},"mark":{"type":"rect","color":"#fde3e3"},
  "encoding":{"y":{"datum":70,"type":"quantitative","scale":{"domain":[33,73.8],"nice":false,"zero":false},"axis":{"orient":"right","values":[70,50],"grid":true,"gridColor":"#e2e2e2","labels":false,"ticks":false,"domain":true,"domainColor":"#c4c4c4","title":null}},"y2":{"datum":73.8}}},
 {"data":{"name":"rsi"},"mark":{"type":"line","color":"#000000","strokeWidth":1.2},
  "encoding":{"x":{"field":"i","type":"quantitative","scale":{"domain":[-1,86.22],"nice":false,"zero":false},"axis":{"values":[3.5,25.5,47.5,67.5],"grid":true,"gridColor":"#e2e2e2","labels":false,"ticks":false,"domain":false,"title":null}},
   "y":{"field":"r","type":"quantitative"}}},
 {"data":{"values":[{}]},"mark":{"type":"text","text":"RSI (14) 38.5","align":"left","baseline":"middle","fontSize":14,"color":"#333333"},
  "encoding":{"x":{"datum":6.5},"y":{"datum":68.8,"type":"quantitative"}}},
 {"data":{"values":[{"v":70,"t":"70"},{"v":50,"t":"50"}]},"mark":{"type":"text","align":"left","baseline":"middle","fontSize":14,"dy":3},
  "encoding":{"x":{"datum":87.2},"y":{"field":"v","type":"quantitative"},"text":{"field":"t"},
   "color":{"condition":{"test":"datum.v == 70","value":"#d04848"},"value":"#222222"}}}
]
},
{
"width":498,"height":66,
"layer":[
 {"data":{"name":"hist"},"mark":{"type":"bar","width":4.6},
  "encoding":{"x":{"field":"i","type":"quantitative","scale":{"domain":[-1,86.22],"nice":false,"zero":false},"axis":{"values":[3.5,25.5,47.5,67.5],"grid":true,"gridColor":"#e2e2e2","labels":false,"ticks":false,"domain":false,"title":null}},
   "y":{"field":"h","type":"quantitative","scale":{"domain":[-0.00845,0.0125],"nice":false,"zero":false},"axis":{"orient":"right","values":[0.01,0],"grid":true,"gridColor":"#e2e2e2","labels":false,"ticks":false,"domain":true,"domainColor":"#c4c4c4","title":null}},
   "y2":{"datum":0},
   "color":{"condition":{"test":"datum.h > 0","value":"#93c5a8"},"value":"#e6a0a0"}}},
 {"data":{"name":"macd"},"mark":{"type":"area","opacity":0.7,"clip":true},
  "encoding":{"x":{"field":"i","type":"quantitative"},"y":{"field":"m","type":"quantitative"},"y2":{"field":"g"},"detail":{"field":"s"},
   "color":{"condition":{"test":"datum.c == 'up'","value":"#cdfacd"},"value":"#fcd2d2"}}},
 {"data":{"name":"macd"},"mark":{"type":"line","color":"#33ee33","strokeWidth":1.3,"clip":true},
  "encoding":{"x":{"field":"i","type":"quantitative"},"y":{"field":"m","type":"quantitative"}}},
 {"data":{"name":"macd"},"mark":{"type":"line","color":"#ee2222","strokeWidth":1.3,"clip":true},
  "encoding":{"x":{"field":"i","type":"quantitative"},"y":{"field":"g","type":"quantitative"}}},
 {"data":{"values":[{}]},"mark":{"type":"text","text":"MACD (12,26,9) -0.01","align":"left","baseline":"middle","fontSize":14,"color":"#333333"},
  "encoding":{"x":{"datum":6.5},"y":{"datum":0.00756,"type":"quantitative"}}},
 {"data":{"values":[{"v":0.01,"t":"0.01"},{"v":0,"t":"0"}]},"mark":{"type":"text","align":"left","baseline":"middle","fontSize":14,"dy":3},
  "encoding":{"x":{"datum":86.7},"y":{"field":"v","type":"quantitative"},"text":{"field":"t"},
   "color":{"condition":{"test":"datum.v > 0","value":"#d04848"},"value":"#111111"}}}
]
}
],
"resolve":{"scale":{"x":"independent","y":"independent"}}
}
